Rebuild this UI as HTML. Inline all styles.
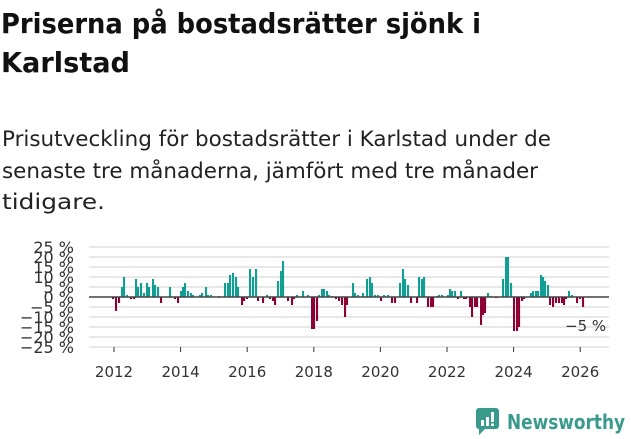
<!DOCTYPE html>
<html><head><meta charset="utf-8"><style>
html,body{margin:0;padding:0;background:#fff;}
svg{display:block;font-family:"DejaVu Sans","Liberation Sans",sans-serif;}
</style></head><body>
<svg id="s" width="631" height="439" viewBox="0 0 631 439" xmlns="http://www.w3.org/2000/svg">
<text x="1" y="33" font-size="28" font-weight="bold" fill="#111" textLength="480" lengthAdjust="spacingAndGlyphs">Priserna på bostadsrätter sjönk i</text>
<text x="1" y="72" font-size="28" font-weight="bold" fill="#111" textLength="129" lengthAdjust="spacingAndGlyphs">Karlstad</text>
<text x="2" y="146" font-size="21" fill="#222" textLength="549" lengthAdjust="spacingAndGlyphs">Prisutveckling för bostadsrätter i Karlstad under de</text>
<text x="2" y="178" font-size="21" fill="#222" textLength="536" lengthAdjust="spacingAndGlyphs">senaste tre månaderna, jämfört med tre månader</text>
<text x="2" y="209" font-size="21" fill="#222" textLength="103" lengthAdjust="spacingAndGlyphs">tidigare.</text>
<g id="grid"></g>
<g id="bars"></g>
<line x1="89" y1="297" x2="609" y2="297" stroke="#444" stroke-width="1.5"/>
<g id="ax" font-size="15" fill="#333"></g>
<text x="565" y="331" font-size="15" fill="#333">−5 %</text>
<g transform="translate(476,408)">
<rect x="0" y="0" width="23" height="21" rx="3" fill="#3a9b8d"/>
<polygon points="3,20 3,27 10,20" fill="#3a9b8d"/>
<rect x="5" y="12" width="3" height="6" fill="#fff"/>
<rect x="10" y="9" width="3" height="9" fill="#fff"/>
<rect x="15" y="4" width="3" height="10" fill="#fff"/>
<rect x="15" y="15.5" width="3" height="2.5" fill="#fff"/>
</g>
<text x="507" y="429" font-size="20" font-weight="bold" fill="#3a9b8d" textLength="118" lengthAdjust="spacingAndGlyphs">Newsworthy</text>
</svg>
<script>
var NS="http://www.w3.org/2000/svg",g=document.getElementById('grid'),b=document.getElementById('bars'),ax=document.getElementById('ax');
function el(t,a,p){var e=document.createElementNS(NS,t);for(var k in a)e.setAttribute(k,a[k]);p.appendChild(e);return e;}
var labs=["25 %","20 %","15 %","10 %","5 %","0 %","−5 %","−10 %","−15 %","−20 %","−25 %"];
for(var i=0;i<=10;i++){var y=247+i*10;if(i!=5)el('line',{x1:89,x2:609,y1:y,y2:y,stroke:'#e0e0e0','stroke-width':1.5},g);
var t=el('text',{x:74,y:y+6,'text-anchor':'end','font-size':16},ax);t.textContent=labs[i];}
var yrs=[2012,2014,2016,2018,2020,2022,2024,2026];
yrs.forEach(function(yr,i){var x=114+i*66.6;el('line',{x1:x,x2:x,y1:347,y2:352,stroke:'#333'},ax);var t=el('text',{x:x,y:377,'text-anchor':'middle'},ax);t.textContent=yr;});
var d=[[113,-1],[116,-7],[119,-3],[122,5],[124,10],[127,1],[131,-1],[134,-1],[136,9],[138,5],[141,7],[144,2],[147,7],[149,5],[153,9],[155,6],[158,5],[161,-3],[170,5],[175,-1],[178,-3],[181,3],[183,5],[185,7],[188,3],[191,2],[193,1],[200,1],[202,2],[206,5],[208,1],[211,1],[219,0.5],[225,7],[228,7],[230,11],[233,12],[236,10],[238,5],[242,-4],[244,-2],[247,-1],[250,14],[253,10],[256,14],[258,-2],[263,-3],[267,1],[270,-1],[273,-2],[275,-4],[278,8],[281,13],[283,18],[288,-2],[292,-4],[294,-1],[297,1],[303,3],[308,1],[312,-16],[314,-16],[317,-12],[319,1],[322,4],[324,4],[327,3],[329,1],[332,0.5],[336,-1],[339,-2],[342,-4],[345,-10],[347,-4],[353,7],[355,2],[358,1],[363,2],[367,9],[370,10],[372,7],[375,1],[378,1],[381,-2],[384,1],[388,1],[392,-3],[395,-3],[400,7],[403,14],[405,9],[408,6],[411,-3],[417,-3],[419,10],[422,9],[424,10],[428,-5],[431,-5],[433,-5],[437,0.5],[439,1],[442,1],[448,1],[450,4],[452,3],[455,3],[458,-1],[461,3],[464,-1],[466,-1],[470,-5],[472,-10],[475,-5],[477,-5],[481,-14],[483,-9],[485,-8],[488,2],[491,0.5],[496,-0.5],[503,9],[506,20],[508,20],[511,7],[514,-17],[517,-17],[519,-15],[522,-2],[524,-1],[531,2],[533,3],[536,3],[538,3],[541,11],[543,10],[545,8],[548,6],[550,-4],[553,-5],[556,-3],[559,-3],[562,-3],[564,-4],[566,-1],[569,3],[572,1],[577,-3],[580,-1],[583,-5]];
d.forEach(function(p){var v=p[1],h=Math.abs(v)*2;el('rect',{x:p[0]-1,width:2.1,y:v>0?297-h:297,height:h,fill:v>0?'#129e93':'#8c0034'},b);});
</script>
</body></html>
